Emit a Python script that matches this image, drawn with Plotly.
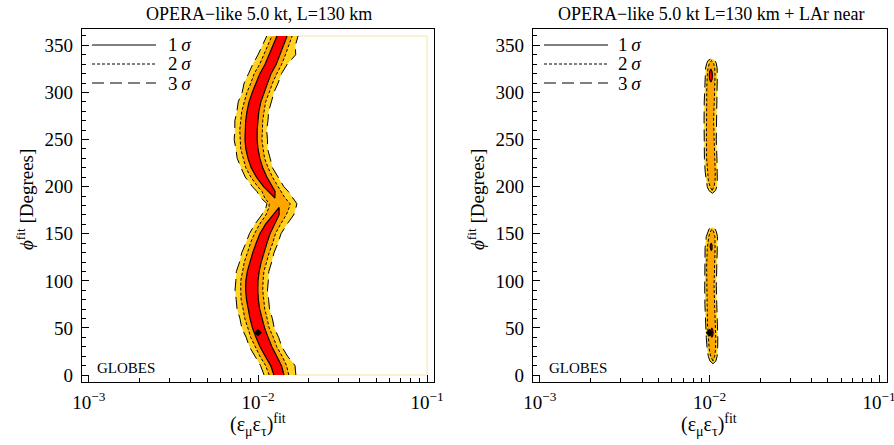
import numpy as np
import plotly.graph_objects as go

# ---------------- data ----------------
# Left panel: OPERA-like 5.0 kt, L=130 km  -- band of allowed regions
L_PHI = [0, 10, 20, 30, 40, 50, 60, 70, 80, 90, 100, 110, 120, 130, 140, 150, 160, 170,
         178, 182, 188, 195, 200, 210, 220, 230, 240, 250, 260, 270, 280, 290, 300, 310,
         320, 330, 340, 350, 360]
# log10 of (eps_mu eps_tau)^fit at the centre of the band
L_CENTER = [-1.876, -1.893, -1.923, -1.953, -1.976, -1.997, -2.012, -2.024, -2.033, -2.037,
            -2.036, -2.028, -2.015, -1.998, -1.979, -1.959, -1.929, -1.893,
            -1.875, -1.872, -1.900, -1.919, -1.941,
            -1.978, -2.006, -2.024, -2.036, -2.041, -2.041, -2.037, -2.030, -2.018, -2.000,
            -1.978, -1.956, -1.925, -1.902, -1.879, -1.858]
# half widths (decades) of the 1 sigma region
L_HW1 = [0.030, 0.032, 0.034, 0.035, 0.036, 0.036, 0.035, 0.034, 0.035, 0.036, 0.036, 0.035,
         0.034, 0.033, 0.032, 0.030, 0.027, 0.018, 0.0, 0.0, 0.0, 0.020, 0.026, 0.031, 0.034,
         0.035, 0.036, 0.036, 0.036, 0.036, 0.035, 0.035, 0.034, 0.034, 0.033, 0.033, 0.032,
         0.031, 0.030]
# half widths (decades) of the 2 sigma region
L_HW2 = [0.058, 0.062, 0.066, 0.064, 0.067, 0.063, 0.066, 0.064, 0.067, 0.065, 0.066, 0.063,
         0.066, 0.064, 0.066, 0.062, 0.062, 0.060, 0.060, 0.062, 0.060, 0.058, 0.060, 0.064,
         0.066, 0.063, 0.066, 0.064, 0.067, 0.065, 0.066, 0.063, 0.066, 0.064, 0.067, 0.065,
         0.064, 0.062, 0.060]
# left / right half widths (decades) of the 3 sigma region
L_HW3_L = [0.088, 0.092, 0.095, 0.098, 0.094, 0.099, 0.095, 0.100, 0.096, 0.099, 0.095, 0.100,
           0.094, 0.098, 0.093, 0.092, 0.090, 0.085, 0.078, 0.075, 0.082, 0.088, 0.092, 0.097,
           0.094, 0.099, 0.095, 0.100, 0.096, 0.100, 0.095, 0.099, 0.094, 0.104, 0.100, 0.106,
           0.098, 0.094, 0.090]
L_HW3_R = [0.100, 0.112, 0.098, 0.094, 0.098, 0.093, 0.097, 0.092, 0.096, 0.093, 0.097, 0.092,
           0.096, 0.093, 0.097, 0.095, 0.100, 0.104, 0.100, 0.102, 0.106, 0.098, 0.094, 0.097,
           0.092, 0.096, 0.093, 0.097, 0.092, 0.096, 0.093, 0.097, 0.094, 0.097, 0.095, 0.098,
           0.125, 0.100, 0.095]

# Right panel: + LAr near  -- two thin islands
RU_PHI = [193, 196, 200, 207, 215, 230, 250, 270, 290, 305, 318, 326, 331, 334, 336]
RU_CENTER = [-1.983, -1.984, -1.985, -1.987, -1.989, -1.993, -1.996, -1.997, -1.995, -1.992,
             -1.990, -1.989, -1.988, -1.988, -1.988]
RU_HW3 = [0.0, 0.020, 0.028, 0.033, 0.036, 0.037, 0.036, 0.035, 0.036, 0.037, 0.036, 0.034,
          0.028, 0.020, 0.0]
RU_HW2 = [0.0, 0.0, 0.012, 0.020, 0.023, 0.024, 0.022, 0.021, 0.023, 0.024, 0.023, 0.020,
          0.012, 0.0, 0.0]
RL_PHI = [12, 15, 20, 28, 40, 55, 75, 95, 115, 135, 147, 152, 155, 157]
RL_CENTER = [-1.979, -1.980, -1.981, -1.983, -1.985, -1.988, -1.992, -1.994, -1.994, -1.990,
             -1.986, -1.985, -1.985, -1.985]
RL_HW3 = [0.0, 0.018, 0.026, 0.031, 0.034, 0.036, 0.035, 0.034, 0.035, 0.036, 0.033, 0.026,
          0.018, 0.0]
RL_HW2 = [0.0, 0.0, 0.012, 0.019, 0.022, 0.024, 0.022, 0.021, 0.023, 0.023, 0.018, 0.010,
          0.0, 0.0]
# small 1 sigma islands in the right panel
R1_ISLANDS = [
    ([311, 314, 318, 322, 325], -1.992, [0.0, 0.007, 0.009, 0.007, 0.0]),
    ([132, 134, 136, 138, 140], -1.990, [0.0, 0.005, 0.006, 0.005, 0.0]),
    ([40, 42.5, 45, 47.5, 50], -1.986, [0.0, 0.006, 0.007, 0.006, 0.0]),
]
BEST_FIT = (0.01, 45)

X_TICKS = [1e-3, 1e-2, 1e-1]
X_TICKTEXT = ["10<sup>\u22123</sup>", "10<sup>\u22122</sup>", "10<sup>\u22121</sup>"]
X_MINOR = [m * 10.0 ** k for k in (-3, -2) for m in range(2, 10)]
Y_TICKS = [0, 50, 100, 150, 200, 250, 300, 350]
TITLES = ["OPERA\u2212like 5.0 kt, L=130 km", "OPERA\u2212like 5.0 kt L=130 km + LAr near"]
LEVELS = ["1\u2009<i>\u03c3</i>", "2\u2009<i>\u03c3</i>", "3\u2009<i>\u03c3</i>"]

# ---------------- styles ----------------
RED, ORANGE, YELLOW = "#ff0000", "#ffa500", "#ffd320"
FONT = "Liberation Serif, Times New Roman, serif"
DASH = {1: "solid", 2: "3px,2px", 3: "12px,6px"}
LW = {1: 1.2, 2: 1.0, 3: 1.0}

fig = go.Figure()


def bounds(center, hwl, hwr):
    c = np.asarray(center, float)
    return 10 ** (c - np.asarray(hwl, float)), 10 ** (c + np.asarray(hwr, float))


def add_fill(xa, ya, phi, left, right, color):
    fig.add_trace(go.Scatter(x=list(left) + list(right[::-1]), y=list(phi) + list(phi[::-1]),
                             fill="toself", fillcolor=color, mode="lines",
                             line=dict(width=0, color=color), hoverinfo="skip",
                             showlegend=False, xaxis=xa, yaxis=ya))


line_queue = []


def runs(hw):
    n = len(hw)
    out, cur = [], []
    for i in range(n):
        if hw[i] > 0:
            if cur and i != cur[-1] + 1:
                out.append(cur)
                cur = []
            cur.append(i)
    if cur:
        out.append(cur)
    res = []
    for g in out:
        a, b = g[0], g[-1]
        if a > 0 and hw[a - 1] == 0:
            a -= 1
        if b < n - 1 and hw[b + 1] == 0:
            b += 1
        res.append((a, b))
    return res


def add_region(xa, ya, phi, center, hwl, hwr, color, lvl):
    hwl = list(hwl)
    hwr = list(hwr)
    hw = [max(p, q) for p, q in zip(hwl, hwr)]
    for a, b in runs(hw):
        ph = list(phi[a:b + 1])
        left, right = bounds(center[a:b + 1], hwl[a:b + 1], hwr[a:b + 1])
        add_fill(xa, ya, ph, left, right, color)
        tip_a, tip_b = hw[a] == 0, hw[b] == 0
        if tip_a and tip_b:
            xs = list(left) + list(right[::-1]) + [left[0]]
            ys = ph + ph[::-1] + [ph[0]]
        elif tip_a:
            xs = list(right[::-1]) + list(left)
            ys = ph[::-1] + ph
        elif tip_b:
            xs = list(left) + list(right[::-1])
            ys = ph + ph[::-1]
        else:
            xs = list(left) + [None] + list(right)
            ys = ph + [None] + ph
        line_queue.append((xa, ya, xs, ys, lvl))


# left panel
add_region("x", "y", L_PHI, L_CENTER, L_HW3_L, L_HW3_R, YELLOW, 3)
add_region("x", "y", L_PHI, L_CENTER, L_HW2, L_HW2, ORANGE, 2)
add_region("x", "y", L_PHI, L_CENTER, L_HW1, L_HW1, RED, 1)
# faint edge of the computed grid
_, yr = bounds(L_CENTER, L_HW3_L, L_HW3_R)
fig.add_trace(go.Scatter(x=[yr[-1], X_TICKS[-1], X_TICKS[-1], yr[0]],
                         y=[L_PHI[-1], L_PHI[-1], L_PHI[0], L_PHI[0]], mode="lines",
                         line=dict(color="#f8e4a2", width=1), hoverinfo="skip",
                         showlegend=False, xaxis="x", yaxis="y"))

# right panel
for phi, cen, h3, h2 in [(RU_PHI, RU_CENTER, RU_HW3, RU_HW2), (RL_PHI, RL_CENTER, RL_HW3, RL_HW2)]:
    add_region("x2", "y2", phi, cen, h3, h3, YELLOW, 3)
    add_region("x2", "y2", phi, cen, h2, h2, ORANGE, 2)
for phi, c, h in R1_ISLANDS:
    add_region("x2", "y2", phi, [c] * len(phi), h, h, RED, 1)

for xa, ya, xs, ys, lvl in line_queue:
    fig.add_trace(go.Scatter(x=xs, y=ys, mode="lines",
                             line=dict(color="black", width=LW[lvl], dash=DASH[lvl]),
                             hoverinfo="skip", showlegend=False, xaxis=xa, yaxis=ya))

for xa, ya in [("x", "y"), ("x2", "y2")]:
    fig.add_trace(go.Scatter(x=[BEST_FIT[0]], y=[BEST_FIT[1]], mode="markers",
                             marker=dict(symbol="diamond", size=6, color="black"),
                             hoverinfo="skip", showlegend=False, xaxis=xa, yaxis=ya))

# ---------------- layout ----------------
W, H = 894, 445
X_DOM = [[82 / W, 434 / W], [533 / W, 887 / W]]
Y_DOM = [1 - 382 / H, 1 - 29 / H]
X_RANGE = [[-3.041, -0.959], [-3.041, -0.953]]
Y_RANGE = [-7.4, 367.4]
TICKFONT = dict(family=FONT, size=19, color="black")

axis_common = dict(showline=True, linecolor="black", linewidth=1.3, mirror=True,
                   ticks="inside", tickcolor="black", tickwidth=1, ticklen=7,
                   showgrid=False, zeroline=False, automargin=False,
                   ticklabeloverflow="allow")

layout = dict(width=W, height=H, margin=dict(l=0, r=0, t=0, b=0, autoexpand=False),
              paper_bgcolor="white", plot_bgcolor="white", showlegend=False,
              font=dict(family=FONT, size=18, color="black"))
for i, (xn, yn) in enumerate([("xaxis", "yaxis"), ("xaxis2", "yaxis2")]):
    layout[xn] = dict(axis_common, type="log", domain=X_DOM[i], range=X_RANGE[i],
                      tickvals=X_TICKS, ticktext=X_TICKTEXT, tickfont=TICKFONT,
                      ticklabelstandoff=3,
                      minor=dict(tickvals=X_MINOR, ticks="inside", ticklen=4,
                                 tickcolor="black", tickwidth=1),
                      anchor="y" if i == 0 else "y2")
    layout[yn] = dict(axis_common, domain=Y_DOM, range=Y_RANGE, tickvals=Y_TICKS,
                      tickfont=TICKFONT, ticklabelstandoff=4,
                      minor=dict(dtick=10, tick0=0, ticks="inside", ticklen=4,
                                 tickcolor="black", tickwidth=1),
                      anchor="x" if i == 0 else "x2")
fig.update_layout(**layout)

ann = []
shapes = []
for i, sfx in enumerate(["", "2"]):
    ann.append(dict(text=TITLES[i], x=(259 if i == 0 else 711) / W, y=1 - 14 / H,
                    xref="paper", yref="paper", showarrow=False,
                    font=dict(family=FONT, size=18, color="black"),
                    xanchor="center", yanchor="middle"))
    ann.append(dict(text="(\u03b5<sub>\u03bc</sub>\u03b5<sub>\u03c4</sub>)<sup>fit</sup>",
                    x=(258 if i == 0 else 709) / W, y=1 - 425 / H,
                    xref="paper", yref="paper", showarrow=False,
                    font=dict(family=FONT, size=20, color="black"),
                    xanchor="center", yanchor="middle"))
    ann.append(dict(text="<i>\u03d5</i><sup>fit</sup> [Degrees]",
                    x=(25 if i == 0 else 476) / W, y=1 - 200 / H,
                    xref="paper", yref="paper", showarrow=False, textangle=-90,
                    font=dict(family=FONT, size=19, color="black"),
                    xanchor="center", yanchor="middle"))
    ann.append(dict(text="GLOBES", x=(95 if i == 0 else 547) / W, y=1 - 368 / H,
                    xref="paper", yref="paper", showarrow=False,
                    font=dict(family=FONT, size=15, color="black"),
                    xanchor="left", yanchor="middle"))
    # legend
    x_left = 82 if i == 0 else 533
    width = 352 if i == 0 else 354
    lx0 = ((92 if i == 0 else 544) - x_left) / width
    lx1 = ((156 if i == 0 else 608) - x_left) / width
    tx = ((166 if i == 0 else 616) - x_left) / width
    for k, py in enumerate([45, 64, 83]):
        yd = (382 - py) / 353
        shapes.append(dict(type="line", xref="x%s domain" % sfx, yref="y%s domain" % sfx,
                           x0=lx0, x1=lx1, y0=yd, y1=yd,
                           line=dict(color="black", width=1, dash=DASH[k + 1])))
        ann.append(dict(text=LEVELS[k], x=tx, y=yd, xref="x%s domain" % sfx,
                        yref="y%s domain" % sfx, showarrow=False,
                        font=dict(family=FONT, size=19, color="black"),
                        xanchor="left", yanchor="middle"))
fig.update_layout(annotations=ann, shapes=shapes)

fig.write_html("out.html", config={"displayModeBar": False},
               post_script="document.body.style.margin='0';document.body.style.padding='0';")
